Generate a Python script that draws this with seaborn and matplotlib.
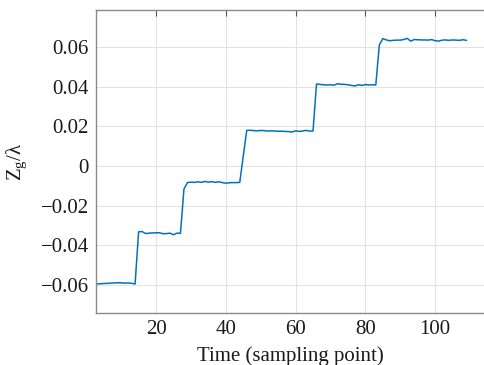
import matplotlib
matplotlib.use("Agg")
import matplotlib.pyplot as plt
import seaborn as sns
import pandas as pd

# ---- data ----
time = list(range(3, 110))
zg = [
    # x = 3..14
    -0.0597, -0.0596, -0.0595, -0.0594, -0.0593, -0.0592, -0.0591, -0.0591,
    -0.0593, -0.0592, -0.0594, -0.0597,
    # x = 15..27
    -0.0333, -0.0332, -0.0342, -0.0340, -0.0339, -0.0338, -0.0338, -0.0343,
    -0.0342, -0.0340, -0.0348, -0.0340, -0.0341,
    # x = 28..44
    -0.0117, -0.0084, -0.0082, -0.0083, -0.0080, -0.0083, -0.0078, -0.0082,
    -0.0079, -0.0083, -0.0080, -0.0084, -0.0087, -0.0085, -0.0084, -0.0084,
    -0.0083,
    # x = 45..65
    0.0050, 0.0180, 0.0181, 0.0179, 0.0178, 0.0180, 0.0179, 0.0177, 0.0178,
    0.0177, 0.0176, 0.0176, 0.0175, 0.0174, 0.0172, 0.0178, 0.0175, 0.0177,
    0.0180, 0.0177, 0.0177,
    # x = 66..83
    0.0415, 0.0413, 0.0411, 0.0410, 0.0411, 0.0409, 0.0416, 0.0414, 0.0413,
    0.0411, 0.0408, 0.0405, 0.0411, 0.0408, 0.0412, 0.0410, 0.0411, 0.0410,
    # x = 84..109
    0.0612, 0.0645, 0.0638, 0.0634, 0.0636, 0.0637, 0.0637, 0.0640, 0.0646,
    0.0632, 0.0640, 0.0639, 0.0638, 0.0638, 0.0637, 0.0640, 0.0634, 0.0632,
    0.0637, 0.0638, 0.0636, 0.0638, 0.0637, 0.0636, 0.0639, 0.0636,
]
x_ticks = [20, 40, 60, 80, 100]
x_tick_labels = ["20", "40", "60", "80", "100"]
y_ticks = [-0.06, -0.04, -0.02, 0, 0.02, 0.04, 0.06]
y_tick_labels = ["\u22120.06", "\u22120.04", "\u22120.02", "0", "0.02", "0.04", "0.06"]

df = pd.DataFrame({"time": time, "zg": zg})

sns.set_theme(style="whitegrid")
plt.rcParams["font.family"] = ["Liberation Serif", "DejaVu Serif"]
plt.rcParams["mathtext.fontset"] = "custom"
plt.rcParams["mathtext.rm"] = "Liberation Serif"
plt.rcParams["mathtext.it"] = "Liberation Serif:italic"

fig = plt.figure(figsize=(4.85, 3.65), dpi=100)
ax = fig.add_axes([0.1973, 0.1425, 0.8027, 0.8309])

sns.lineplot(data=df, x="time", y="zg", ax=ax, color="#0072BD", linewidth=1.1)

ax.set_xlim(2.7, 114.3)
ax.set_ylim(-0.0744, 0.0791)
ax.set_xticks(x_ticks)
ax.set_xticklabels(x_tick_labels)
ax.set_yticks(y_ticks)
ax.set_yticklabels(y_tick_labels)

ax.set_facecolor("white")
ax.grid(True, color="#e3e3e3", linewidth=0.8)
for side in ["left", "bottom", "top"]:
    ax.spines[side].set_visible(True)
    ax.spines[side].set_color("#8a8a8a")
    ax.spines[side].set_linewidth(1.0)
ax.spines["right"].set_visible(False)

ax.tick_params(axis="both", which="major", direction="in", length=4,
               width=0.8, color="#555555", labelsize=15, labelcolor="#1a1a1a",
               top=True, right=False, pad=5)

ax.set_xlabel("Time (sampling point)", fontsize=15, color="#1a1a1a", labelpad=5)
ax.set_ylabel(r"$\mathregular{Z_g/\lambda}$", fontsize=15, color="#1a1a1a", labelpad=8)

fig.savefig("out.png", dpi=100)
